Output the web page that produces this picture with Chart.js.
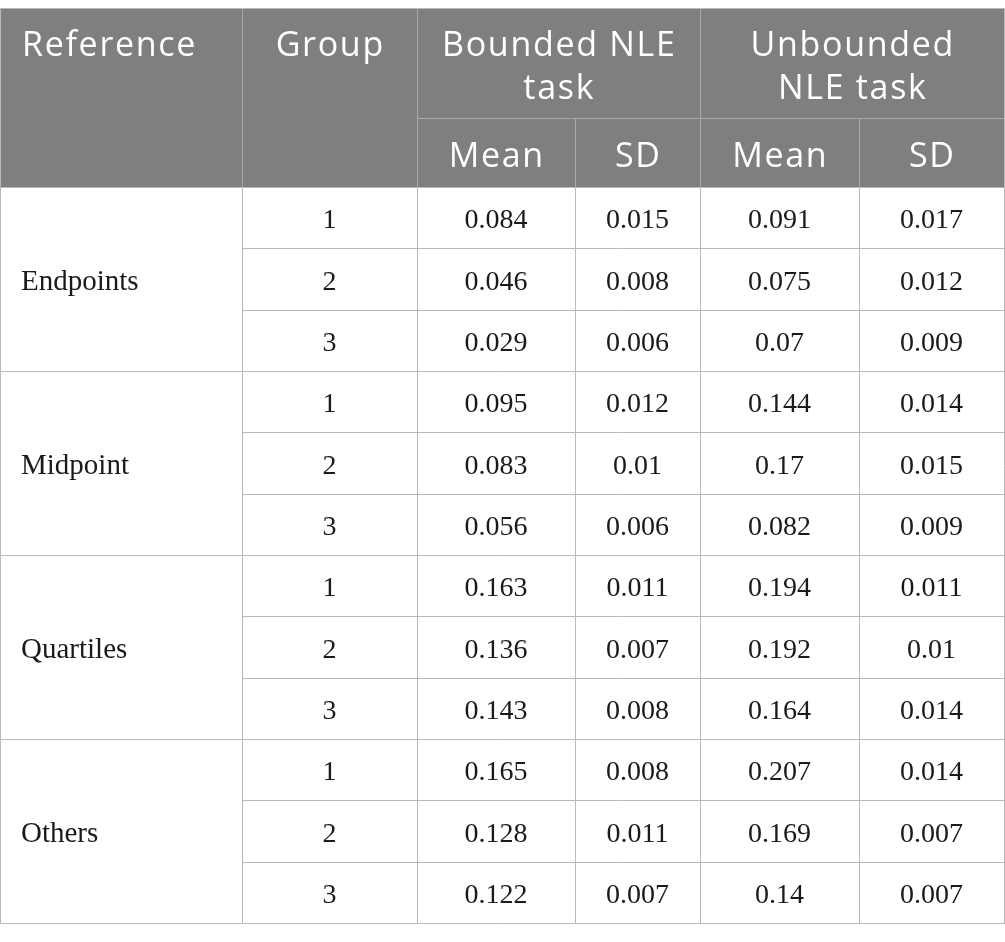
<!DOCTYPE html>
<html>
<head>
<meta charset="utf-8">
<script src="https://cdn.jsdelivr.net/npm/chart.js@4.4.1/dist/chart.umd.min.js"></script>
<style>
  html, body { margin: 0; padding: 0; background: #ffffff; }
  #wrap { width: 1005px; height: 942px; position: relative; }
</style>
</head>
<body>
<div id="wrap"><canvas id="c"></canvas></div>
<script>
// ---- data ----
const references = ['Endpoints', 'Midpoint', 'Quartiles', 'Others'];
const groups = ['1', '2', '3'];
const headerTop = ['Reference', 'Group', ['Bounded NLE', 'task'], ['Unbounded', 'NLE task']];
const headerSub = ['Mean', 'SD', 'Mean', 'SD'];
const boundedMean   = [0.084, 0.046, 0.029, 0.095, 0.083, 0.056, 0.163, 0.136, 0.143, 0.165, 0.128, 0.122];
const boundedSD     = [0.015, 0.008, 0.006, 0.012, 0.01, 0.006, 0.011, 0.007, 0.008, 0.008, 0.011, 0.007];
const unboundedMean = [0.091, 0.075, 0.07, 0.144, 0.17, 0.082, 0.194, 0.192, 0.164, 0.207, 0.169, 0.14];
const unboundedSD   = [0.017, 0.012, 0.009, 0.014, 0.015, 0.009, 0.011, 0.01, 0.014, 0.014, 0.007, 0.007];

// ---- layout (pixel-like units on the hidden linear scales) ----
const colEdges = [0, 242, 417, 575, 700, 859, 1004];
const tableTop = 8, headMid = 118, headBottom = 187, tableBottom = 923;
const styleCfg = {
  headBg: '#7f7f7f', line: '#b8b8b8', headLine: '#a9a9a9',
  headFont: '400 34px "Open Sans"', headSpacing: '1.7px',
  labelFont: '29px "Liberation Serif"', bodyFont: '28px "Liberation Serif"'
};

const tablePlugin = {
  id: 'tablePlugin',
  afterDraw(chart) {
    const ctx = chart.ctx, xs = chart.scales.x, ys = chart.scales.y;
    const X = v => xs.getPixelForValue(v), Y = v => ys.getPixelForValue(v);
    const nRows = references.length * groups.length;
    const rowH = (tableBottom - headBottom) / nRows;
    const cols = [boundedMean, boundedSD, unboundedMean, unboundedSD];

    ctx.save();
    ctx.fillStyle = styleCfg.headBg;
    ctx.fillRect(X(colEdges[0]), Y(tableTop), X(colEdges[6]) - X(colEdges[0]) + 1, Y(headBottom) - Y(tableTop));

    const hline = (x0, x1, y, c) => {
      ctx.strokeStyle = c; ctx.lineWidth = 1; ctx.beginPath();
      const yy = Math.round(Y(y)) + 0.5;
      ctx.moveTo(X(x0), yy); ctx.lineTo(X(x1) + 1, yy); ctx.stroke();
    };
    const vline = (x, y0, y1, c) => {
      ctx.strokeStyle = c; ctx.lineWidth = 1; ctx.beginPath();
      const xx = Math.round(X(x)) + 0.5;
      ctx.moveTo(xx, Y(y0)); ctx.lineTo(xx, Y(y1)); ctx.stroke();
    };

    hline(colEdges[2], colEdges[6], headMid, styleCfg.headLine);
    [1, 2, 4].forEach(i => vline(colEdges[i], tableTop, headBottom, styleCfg.headLine));
    [3, 5].forEach(i => vline(colEdges[i], headMid, headBottom, styleCfg.headLine));
    hline(colEdges[0], colEdges[6], tableTop, styleCfg.line);
    vline(colEdges[0], tableTop, tableBottom, styleCfg.line);
    vline(colEdges[6], tableTop, tableBottom, styleCfg.line);

    for (let r = 0; r <= nRows; r++) {
      const y = headBottom + r * rowH;
      const isGroupEdge = r % groups.length === 0;
      hline(isGroupEdge ? colEdges[0] : colEdges[1], colEdges[6], y, styleCfg.line);
    }
    for (let i = 1; i <= 5; i++) vline(colEdges[i], headBottom, tableBottom, styleCfg.line);

    // header text
    ctx.fillStyle = '#ffffff';
    ctx.font = styleCfg.headFont;
    try { ctx.letterSpacing = styleCfg.headSpacing; } catch (e) {}
    ctx.textBaseline = 'alphabetic';
    const topCols = [[0, 1], [1, 2], [2, 4], [4, 6]];
    headerTop.forEach((lab, i) => {
      const lines = Array.isArray(lab) ? lab : [lab];
      const [a, b] = topCols[i];
      lines.forEach((ln, k) => {
        const yb = Y(56 + k * 42.5);
        if (i === 0) { ctx.textAlign = 'left'; ctx.fillText(ln, X(colEdges[a] + 22), yb); }
        else { ctx.textAlign = 'center'; ctx.fillText(ln, (X(colEdges[a]) + X(colEdges[b])) / 2 + 0.8, yb); }
      });
    });
    ctx.textAlign = 'center';
    headerSub.forEach((lab, i) => {
      ctx.fillText(lab, (X(colEdges[i + 2]) + X(colEdges[i + 3])) / 2 + 0.8, Y(167));
    });
    try { ctx.letterSpacing = '0px'; } catch (e) {}

    // body text
    ctx.fillStyle = '#1a1a1a';
    references.forEach((ref, gi) => {
      const yc = headBottom + (gi + 0.5) * groups.length * rowH;
      ctx.font = styleCfg.labelFont;
      ctx.textAlign = 'left';
      ctx.fillText(ref, X(21), Y(yc + 10.5));
      ctx.font = styleCfg.bodyFont;
      groups.forEach((g, k) => {
        const r = gi * groups.length + k;
        const yr = headBottom + (r + 0.5) * rowH + 10.5;
        ctx.textAlign = 'center';
        ctx.fillText(g, (X(colEdges[1]) + X(colEdges[2])) / 2, Y(yr));
        cols.forEach((arr, ci) => {
          ctx.fillText(String(arr[r]), (X(colEdges[ci + 2]) + X(colEdges[ci + 3])) / 2, Y(yr));
        });
      });
    });
    ctx.restore();
  }
};

new Chart(document.getElementById('c'), {
  type: 'scatter',
  data: { datasets: [] },
  options: {
    responsive: true,
    maintainAspectRatio: false,
    animation: false,
    devicePixelRatio: 1,
    layout: { padding: 0 },
    plugins: { legend: { display: false }, tooltip: { enabled: false } },
    scales: {
      x: { type: 'linear', min: 0, max: 1005, display: false },
      y: { type: 'linear', min: 0, max: 942, reverse: true, display: false }
    }
  },
  plugins: [tablePlugin]
});
</script>
</body>
</html>
